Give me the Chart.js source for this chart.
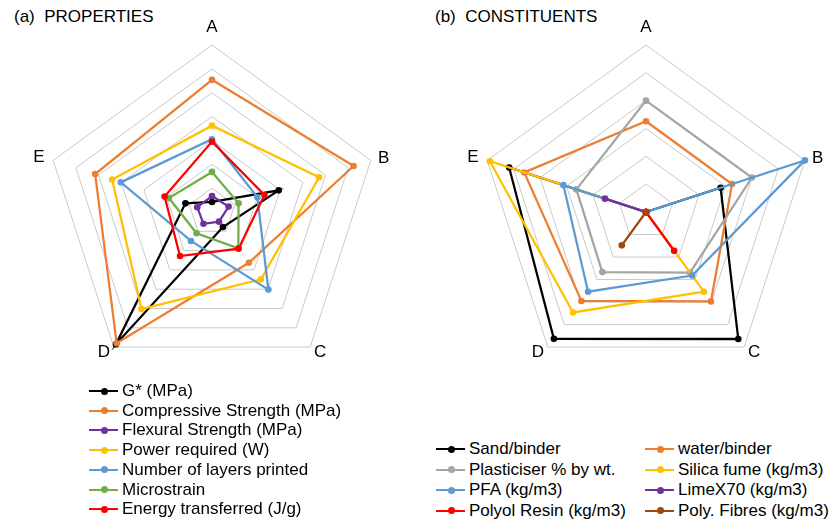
<!DOCTYPE html>
<html>
<head>
<meta charset="utf-8">
<script src="https://cdn.jsdelivr.net/npm/chart.js@4.4.1/dist/chart.umd.min.js"></script>
<style>
  html, body { margin: 0; padding: 0; background: #fff; overflow: hidden; }
  body { width: 830px; height: 522px; position: relative; font-family: "Liberation Sans", Arial, sans-serif; color: #000; }
  .title { position: absolute; top: 7px; font-size: 17px; white-space: pre; }
  .wrap { position: absolute; width: 370px; height: 370px; top: 18px; }
  .legend { position: absolute; font-size: 17px; z-index: 2; }
  .item { position: absolute; height: 20px; line-height: 20px; white-space: nowrap; }
  .item .sw { position: absolute; left: 0; top: 9px; width: 29px; height: 2px; }
  .item .sw i { position: absolute; left: 11.5px; top: -2.5px; width: 7px; height: 7px; border-radius: 50%; }
  .item span { position: absolute; left: 33px; top: 0; }
</style>
</head>
<body>
<div class="title" style="left:14px">(a)  PROPERTIES</div>
<div class="title" style="left:435px">(b)  CONSTITUENTS</div>
<div class="wrap" style="left:27px"><canvas id="chartA" width="370" height="370"></canvas></div>
<div class="wrap" style="left:461px"><canvas id="chartB" width="370" height="370"></canvas></div>
<div class="legend" id="legendA"></div>
<div class="legend" id="legendB"></div>
<script>
const axes = ['A', 'B', 'C', 'D', 'E'];

// (a) properties, in ring units (0-7)
const propNames = ['G* (MPa)', 'Compressive Strength (MPa)', 'Flexural Strength (MPa)', 'Power required (W)',
  'Number of layers printed', 'Microstrain', 'Energy transferred (J/g)'];
const propColors = ['#000000', '#ED7D31', '#7030A0', '#FFC000', '#5B9BD5', '#70AD47', '#FF0000'];
const gStar = [0.42, 2.94, 0.78, 6.85, 1.17];
const compressive = [5.54, 6.24, 2.63, 6.8, 5.15];
const flexural = [0.67, 0.73, 0.5, 0.61, 0.65];
const power = [3.62, 4.72, 3.49, 5.03, 4.4];
const layers = [3.05, 2.0, 4.02, 1.5, 4.02];
const microstrain = [1.68, 1.17, 1.88, 1.1, 1.9];
const energy = [2.95, 2.31, 1.9, 2.28, 2.09];
const propValues = [gStar, compressive, flexural, power, layers, microstrain, energy];

// (b) constituents, in ring units (0-6)
const consNames = ['Sand/binder', 'water/binder', 'Plasticiser % by wt.', 'Silica fume (kg/m3)',
  'PFA (kg/m3)', 'LimeX70 (kg/m3)', 'Polyol Resin (kg/m3)', 'Poly. Fibres (kg/m3)'];
const consColors = ['#000000', '#ED7D31', '#A5A5A5', '#FFC000', '#5B9BD5', '#7030A0', '#FF0000', '#9E480E'];
const sand = [0, 2.82, 5.64, 5.63, 5.17];
const water = [3.26, 3.25, 3.97, 3.95, 4.6];
const plasticiser = [4.0, 4.0, 2.69, 2.67, 2.63];
const silica = [0, 0, 3.54, 4.46, 5.9];
const pfa = [0, 6.0, 2.82, 3.54, 3.12];
const limex = [0, 0, 0, 0, 1.55];
const polyol = [0, 0, 1.72, 0, 0];
const fibres = [0, 0, 0, 1.48, 0];
const consValues = [sand, water, plasticiser, silica, pfa, limex, polyol, fibres];

const labelPad = [18, 7.5, 6.5, 6.5, 9];

function makeDatasets(names, colors, values) {
  return names.map((name, i) => ({
    label: name,
    data: values[i],
    borderColor: colors[i],
    backgroundColor: colors[i],
    pointBackgroundColor: colors[i],
    pointBorderColor: colors[i],
    borderWidth: 2.25,
    pointRadius: 3.3,
    pointBorderWidth: 0,
    fill: false,
    order: -i
  }));
}

function makeChart(id, names, colors, values, max) {
  new Chart(document.getElementById(id), {
    type: 'radar',
    data: { labels: axes, datasets: makeDatasets(names, colors, values) },
    options: {
      responsive: false,
      animation: false,
      layout: { padding: 0 },
      plugins: { legend: { display: false }, tooltip: { enabled: false } },
      elements: { line: { tension: 0 } },
      scales: {
        r: {
          min: 0,
          max: max,
          ticks: { display: false, stepSize: 1 },
          angleLines: { display: false },
          grid: { color: '#C9C9C9', lineWidth: 1 },
          pointLabels: {
            color: '#000',
            font: { family: '"Liberation Sans", Arial, sans-serif', size: 17, lineHeight: 0 },
            padding: ctx => labelPad[ctx.index]
          }
        }
      }
    }
  });
}

function makeLegend(id, names, colors, cols, x0, y0, colGap, rowGap) {
  const el = document.getElementById(id);
  el.innerHTML = names.map((name, i) => {
    const col = i % cols;
    const row = Math.floor(i / cols);
    return `<div class="item" style="left:${x0 + col * colGap}px;top:${y0 + row * rowGap}px">
      <div class="sw" style="background:${colors[i]}"><i style="background:${colors[i]}"></i></div>
      <span>${name}</span></div>`;
  }).join('');
}

makeChart('chartA', propNames, propColors, propValues, 7);
makeChart('chartB', consNames, consColors, consValues, 6);
makeLegend('legendA', propNames, propColors, 1, 89, 381, 0, 19.7);
makeLegend('legendB', consNames, consColors, 2, 436, 439, 209, 20.6);
</script>
</body>
</html>
